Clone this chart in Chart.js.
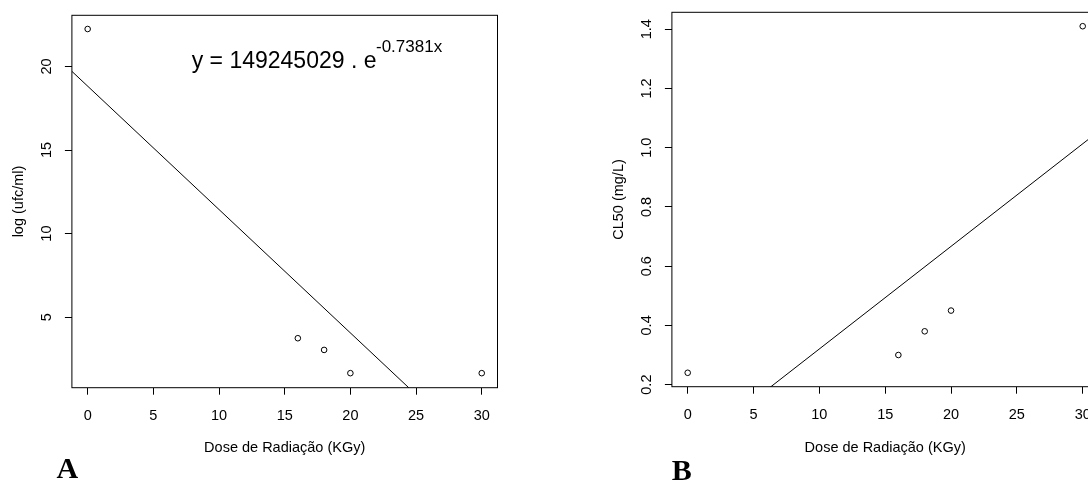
<!DOCTYPE html>
<html>
<head>
<meta charset="utf-8">
<script src="https://cdn.jsdelivr.net/npm/chart.js@4.4.1/dist/chart.umd.min.js"></script>
<style>
  html, body { margin: 0; padding: 0; background: #fff; overflow: hidden; width: 1088px; height: 481px; }
  .panel { position: absolute; top: 0; height: 481px; overflow: hidden; }
  #wrapA { left: 0; width: 600px; }
  #wrapB { left: 600px; width: 488px; }
  canvas { display: block; }
</style>
</head>
<body>
<div class="panel" id="wrapA"><canvas id="chartA" width="600" height="481"></canvas></div>
<div class="panel" id="wrapB"><canvas id="chartB" width="600" height="481"></canvas></div>
<script>
// Radiation dose (kGy) and the measured responses
const doses = [0, 16, 18, 20, 30];
const logUfc = [22.24, 3.74, 3.04, 1.65, 1.65];
const cl50 = [0.24, 0.30, 0.38, 0.45, 1.41];

// Tick marks
const doseTicks = [0, 5, 10, 15, 20, 25, 30];
const logUfcTicks = [5, 10, 15, 20];
const cl50Ticks = [0.2, 0.4, 0.6, 0.8, 1.0, 1.2, 1.4];

// Axis ranges
const doseRange = [-1.2, 31.2];
const logUfcRange = [0.78, 23.06];
const cl50Range = [0.193, 1.457];

// Fitted models
const expFit = { coefficient: 149245029, rate: -0.7381 };  // ufc = C . e^(rate . dose)
const linFit = { intercept: -0.0258, slope: 0.03463 };     // CL50 = a + b . dose

const FONT = "'Liberation Sans', Arial, Helvetica, sans-serif";
Chart.defaults.font.family = FONT;
Chart.defaults.color = '#000';

// Full box around the plotting region plus the panel letter
const frame = {
  id: 'frame',
  afterDraw(chart, args, opts) {
    const { ctx, chartArea: a } = chart;
    ctx.save();
    ctx.strokeStyle = '#000';
    ctx.lineWidth = 1;
    ctx.strokeRect(a.left, a.top, a.right - a.left, a.bottom - a.top);
    if (opts.letter) {
      ctx.fillStyle = '#000';
      ctx.font = "bold 30px 'Liberation Serif', 'Times New Roman', serif";
      ctx.textBaseline = 'alphabetic';
      ctx.textAlign = 'left';
      ctx.fillText(opts.letter, opts.letterX, opts.letterY);
    }
    ctx.restore();
  }
};

// Equation label with superscript exponent
const equation = {
  id: 'equation',
  afterDatasetsDraw(chart, args, opts) {
    if (!opts.main) return;
    const ctx = chart.ctx;
    ctx.save();
    ctx.fillStyle = '#000';
    ctx.textBaseline = 'alphabetic';
    ctx.textAlign = 'left';
    ctx.font = '23px ' + FONT;
    ctx.fillText(opts.main, opts.x, opts.y);
    const w = ctx.measureText(opts.main).width;
    ctx.font = '17px ' + FONT;
    ctx.fillText(opts.sup, opts.x + w - 0.5, opts.y - 16);
    ctx.restore();
  }
};

function makeChart(id, cfg) {
  return new Chart(document.getElementById(id), {
    type: 'scatter',
    data: {
      datasets: [
        {
          data: doses.map((d, i) => ({ x: d, y: cfg.values[i] })),
          showLine: false,
          pointStyle: 'circle',
          pointRadius: 2.8,
          pointHoverRadius: 2.8,
          pointBorderWidth: 1,
          pointBorderColor: '#000',
          pointBackgroundColor: 'rgba(0,0,0,0)'
        },
        {
          type: 'line',
          data: doseRange.map(d => ({ x: d, y: cfg.fit(d) })),
          showLine: true,
          borderColor: '#000',
          borderWidth: 1,
          pointRadius: 0,
          fill: false,
          tension: 0,
          clip: 0
        }
      ]
    },
    options: {
      responsive: false,
      animation: false,
      devicePixelRatio: 1,
      events: [],
      layout: { padding: { left: 0, top: cfg.padTop, right: cfg.padRight, bottom: 0 } },
      plugins: {
        legend: { display: false },
        tooltip: { enabled: false },
        frame: { letter: cfg.letter, letterX: cfg.letterX, letterY: cfg.letterY },
        equation: cfg.equation || {}
      },
      scales: {
        x: {
          type: 'linear',
          position: 'bottom',
          min: doseRange[0],
          max: doseRange[1],
          afterBuildTicks: s => { s.ticks = doseTicks.map(v => ({ value: v })); },
          afterFit: s => { s.height = cfg.xAxisHeight; s.paddingLeft = 0; s.paddingRight = 0; },
          grid: { display: true, drawOnChartArea: false, drawTicks: true, tickLength: 7, color: '#000', lineWidth: 1 },
          border: { display: false },
          ticks: { color: '#000', font: { size: 14.5 }, padding: 13, minRotation: 0, maxRotation: 0, autoSkip: false, callback: v => String(v) },
          title: { display: true, text: 'Dose de Radiação (KGy)', color: '#000', font: { size: 14.5 }, padding: { top: 0, bottom: 24.3 } }
        },
        y: {
          type: 'linear',
          position: 'left',
          min: cfg.range[0],
          max: cfg.range[1],
          afterBuildTicks: s => { s.ticks = cfg.ticks.map(v => ({ value: v })); },
          afterFit: s => { s.width = 71.9; s.paddingTop = 0; s.paddingBottom = 0; },
          grid: { display: true, drawOnChartArea: false, drawTicks: true, tickLength: 7, color: '#000', lineWidth: 1 },
          border: { display: false },
          ticks: { color: '#000', font: { size: 14.5 }, padding: cfg.yTickPad, minRotation: 90, maxRotation: 90, crossAlign: 'center', autoSkip: false, callback: cfg.fmt },
          title: { display: true, text: cfg.yTitle, color: '#000', font: { size: 14.5 }, padding: { top: 9.8, bottom: 0 } }
        }
      }
    },
    plugins: [frame, equation]
  });
}

makeChart('chartA', {
  values: logUfc,
  ticks: logUfcTicks,
  range: logUfcRange,
  fit: d => Math.log(expFit.coefficient) + expFit.rate * d,
  fmt: v => String(v),
  yTitle: 'log (ufc/ml)',
  yTickPad: 9.4,
  padTop: 15.3,
  padRight: 102.5,
  xAxisHeight: 93.3,
  letter: 'A', letterX: 56.5, letterY: 478,
  equation: { main: 'y = ' + expFit.coefficient + ' . e', sup: expFit.rate + 'x', x: 191.7, y: 67.7 }
});

makeChart('chartB', {
  values: cl50,
  ticks: cl50Ticks,
  range: cl50Range,
  fit: d => linFit.intercept + linFit.slope * d,
  fmt: v => v.toFixed(1),
  yTitle: 'CL50 (mg/L)',
  yTickPad: 7.4,
  padTop: 12.3,
  padRight: 101.5,
  xAxisHeight: 94.3,
  letter: 'B', letterX: 71.7, letterY: 480
});
</script>
</body>
</html>
